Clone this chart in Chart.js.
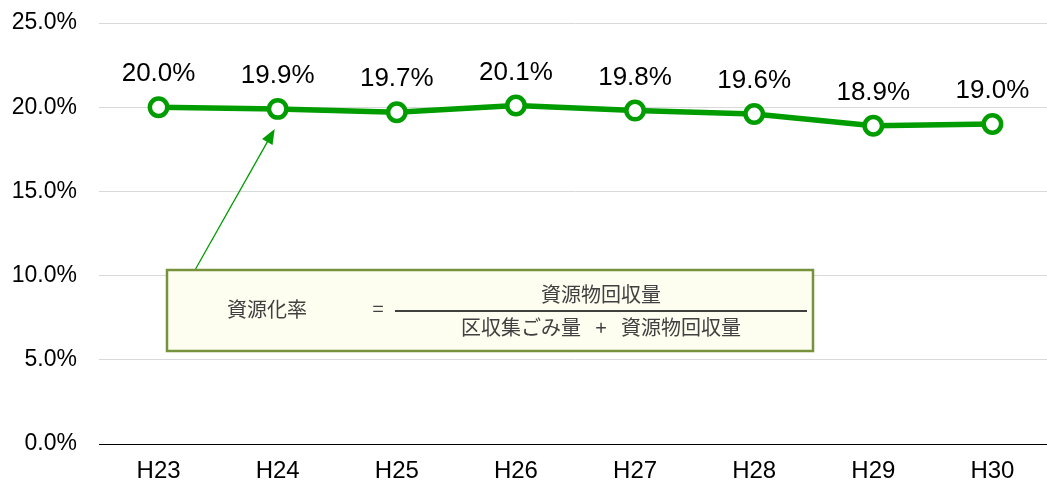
<!DOCTYPE html>
<html>
<head>
<meta charset="utf-8">
<script src="https://cdn.jsdelivr.net/npm/chart.js@4/dist/chart.umd.min.js"></script>
<style>
  html, body { margin: 0; padding: 0; overflow: hidden; background: #fff; }
  #wrap { width: 1052px; height: 486px; position: relative; }
</style>
</head>
<body>
<div id="wrap"><canvas id="graphContainer"></canvas></div>
<script>
// fiscal years (Heisei)
const years = ["H23", "H24", "H25", "H26", "H27", "H28", "H29", "H30"];
// recycling rate, %
const rates = [20.0, 19.9, 19.7, 20.1, 19.8, 19.6, 18.9, 19.0];
const yTicks = [0, 5, 10, 15, 20, 25];

const noteLabel = "資源化率";
const noteTop = "資源物回収量";
const noteBottom = "区収集ごみ量 \u2002+\u2002 資源物回収量";

const green = "#009c00";

// value labels above each point
const pointLabels = {
  id: "pointLabels",
  afterDatasetsDraw(chart) {
    const ctx = chart.ctx;
    const meta = chart.getDatasetMeta(0);
    ctx.save();
    ctx.font = "26px 'Liberation Sans', Arial, sans-serif";
    ctx.fillStyle = "#000";
    ctx.textAlign = "center";
    ctx.textBaseline = "alphabetic";
    meta.data.forEach((pt, i) => {
      ctx.fillText(rates[i].toFixed(1) + "%", pt.x, pt.y - 26);
    });
    ctx.restore();
  }
};

// formula box with arrow pointing at H24
const formulaNote = {
  id: "formulaNote",
  afterDraw(chart) {
    const ctx = chart.ctx;
    const pt = chart.getDatasetMeta(0).data[1];
    const bx = 167, by = 270, bw = 646, bh = 81;

    // arrow
    const x0 = 195, y0 = by;
    const x1 = pt.x - 3, y1 = pt.y + 20;
    const ang = Math.atan2(y1 - y0, x1 - x0);
    ctx.save();
    ctx.strokeStyle = green;
    ctx.fillStyle = green;
    ctx.lineWidth = 1.3;
    ctx.beginPath();
    ctx.moveTo(x0, y0);
    ctx.lineTo(x1 - 10 * Math.cos(ang), y1 - 10 * Math.sin(ang));
    ctx.stroke();
    ctx.beginPath();
    ctx.moveTo(x1, y1);
    ctx.lineTo(x1 - 15 * Math.cos(ang) + 6 * Math.sin(ang), y1 - 15 * Math.sin(ang) - 6 * Math.cos(ang));
    ctx.lineTo(x1 - 15 * Math.cos(ang) - 6 * Math.sin(ang), y1 - 15 * Math.sin(ang) + 6 * Math.cos(ang));
    ctx.closePath();
    ctx.fill();

    // box
    ctx.fillStyle = "#fefef0";
    ctx.fillRect(bx, by, bw, bh);
    ctx.strokeStyle = "#76923c";
    ctx.lineWidth = 2.5;
    ctx.strokeRect(bx, by, bw, bh);

    // text
    ctx.fillStyle = "#404040";
    ctx.font = "20px 'Noto Sans CJK JP', sans-serif";
    ctx.textBaseline = "middle";
    ctx.textAlign = "left";
    ctx.fillText(noteLabel, 227, 309);
    ctx.textAlign = "center";
    ctx.fillText("=", 378, 308);
    ctx.fillText(noteTop, 601, 294);
    ctx.fillText(noteBottom, 601, 327);

    ctx.strokeStyle = "#000";
    ctx.lineWidth = 1.5;
    ctx.beginPath();
    ctx.moveTo(395, 311);
    ctx.lineTo(807, 311);
    ctx.stroke();
    ctx.restore();
  }
};

new Chart(document.getElementById("graphContainer"), {
  type: "line",
  data: {
    labels: years,
    datasets: [
      {
        label: "資源化率",
        data: rates,
        borderColor: green,
        borderWidth: 5.5,
        pointRadius: 8.7,
        pointBorderWidth: 4.5,
        pointBackgroundColor: "#fff",
        pointBorderColor: green,
        tension: 0,
      },
    ],
  },
  options: {
    responsive: true,
    maintainAspectRatio: false,
    animation: false,
    layout: { autoPadding: false, padding: { top: 23, right: 0, bottom: 0, left: 0 } },
    plugins: {
      legend: { display: false },
      tooltip: { enabled: false },
    },
    scales: {
      x: {
        offset: true,
        grid: { display: false, drawTicks: false },
        border: { display: true, color: "#000", width: 1 },
        ticks: {
          color: "#000",
          padding: 13,
          font: { family: "'Liberation Sans', Arial, sans-serif", size: 24 },
        },
        afterFit(scale) { scale.height = 42; },
      },
      y: {
        min: 0,
        max: 25,
        afterBuildTicks(scale) { scale.ticks = yTicks.map(v => ({ value: v })); },
        grid: { color: "#d9d9d9", drawTicks: false },
        border: { display: false },
        ticks: {
          color: "#000",
          padding: 22,
          font: { family: "'Liberation Sans', Arial, sans-serif", size: 23 },
          callback: (v) => v.toFixed(1) + "%",
        },
        afterFit(scale) {
          scale.width = 99;
          scale.paddingTop = 0;
          scale.paddingBottom = 0;
        },
      },
    },
  },
  plugins: [pointLabels, formulaNote],
});
</script>
</body>
</html>
